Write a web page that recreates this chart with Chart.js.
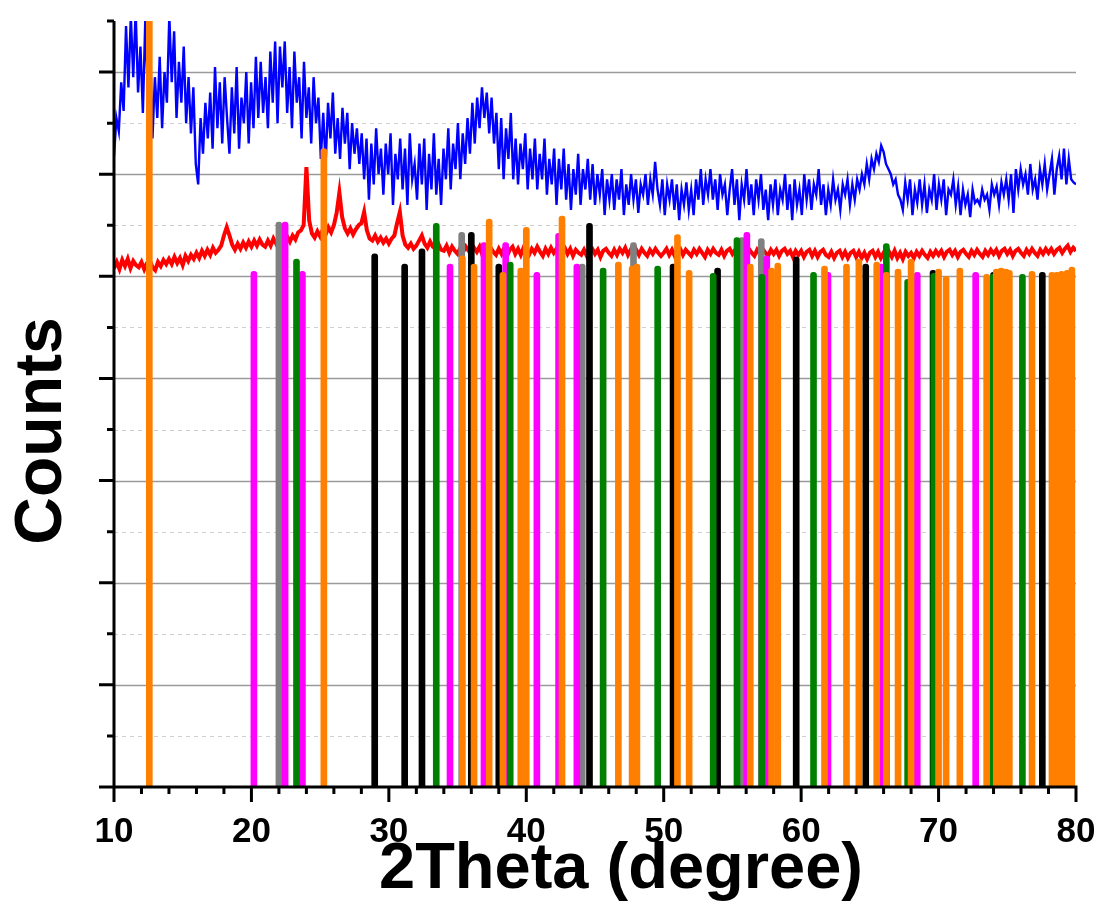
<!DOCTYPE html>
<html>
<head>
<meta charset="utf-8">
<title>XRD</title>
<script src="https://cdn.jsdelivr.net/npm/chart.js@4.4.1/dist/chart.umd.min.js"></script>
<style>
  html, body { margin: 0; padding: 0; background: #fff; }
  canvas { display: block; }
</style>
</head>
<body>
<canvas id="xrd" width="1098" height="923"></canvas>
<script>
// measured patterns: start angle, step, counts (arb. units)
const blueStart = 10, blueStep = 0.175;
const blueCounts = [
  6.18, 6.55, 6.42, 6.90, 6.62, 7.45, 6.85, 7.55,
  6.95, 7.60, 6.80, 7.25, 6.60, 7.50, 6.85, 7.30,
  6.35, 6.95, 6.55, 7.15, 6.45, 7.00, 6.70, 7.55,
  6.90, 7.40, 6.55, 7.10, 6.70, 7.25, 6.50, 6.95,
  6.40, 6.85, 6.10, 5.90, 6.55, 6.20, 6.70, 6.35,
  6.80, 6.25, 7.05, 6.45, 6.90, 6.30, 6.95, 6.55,
  6.20, 6.85, 6.40, 7.05, 6.25, 6.75, 6.50, 7.00,
  6.30, 6.90, 6.45, 7.15, 6.55, 7.10, 6.60, 6.95,
  6.45, 7.20, 6.70, 7.30, 6.50, 7.25, 6.85, 7.30,
  6.60, 7.05, 6.45, 7.20, 6.70, 6.95, 6.35, 7.10,
  6.55, 6.85, 6.30, 6.95, 6.50, 6.75, 6.15, 6.60,
  6.10, 6.70, 6.35, 6.80, 6.20, 6.55, 6.15, 6.65,
  6.30, 6.60, 6.05, 6.50, 6.20, 6.45, 6.10, 6.40,
  5.95, 6.35, 5.75, 6.30, 5.90, 6.45, 6.00, 6.25,
  5.80, 6.30, 6.00, 6.40, 5.70, 6.20, 5.95, 6.35,
  5.85, 6.25, 5.70, 6.40, 5.95, 6.10, 5.75, 6.30,
  5.90, 6.35, 5.65, 6.20, 5.85, 6.40, 5.80, 6.15,
  5.70, 6.25, 5.95, 6.45, 5.85, 6.30, 6.05, 6.50,
  5.95, 6.40, 6.10, 6.55, 6.20, 6.70, 6.30, 6.75,
  6.45, 6.85, 6.55, 6.80, 6.40, 6.75, 6.30, 6.60,
  6.05, 6.55, 5.95, 6.45, 6.15, 6.60, 5.95, 6.35,
  5.90, 6.30, 6.05, 6.40, 5.85, 6.25, 5.95, 6.35,
  5.85, 6.20, 5.95, 6.35, 5.80, 6.15, 5.90, 6.25,
  5.70, 6.15, 5.85, 6.25, 5.75, 6.10, 5.65, 6.05,
  5.80, 6.20, 5.70, 6.05, 5.85, 6.15, 5.75, 6.10,
  5.70, 6.00, 5.80, 6.05, 5.60, 5.95, 5.75, 6.00,
  5.65, 5.95, 5.75, 6.05, 5.60, 5.90, 5.70, 6.00,
  5.75, 5.95, 5.62, 5.90, 5.80, 6.00, 5.70, 5.95,
  5.80, 6.12, 5.85, 5.70, 5.95, 5.60, 5.90, 5.75,
  5.95, 5.65, 5.90, 5.55, 5.85, 5.70, 5.92, 5.65,
  5.85, 5.60, 5.95, 5.75, 6.05, 5.70, 5.95, 5.80,
  6.05, 5.75, 5.95, 5.65, 6.00, 5.80, 5.90, 5.60,
  5.85, 6.05, 5.70, 5.95, 5.55, 5.90, 5.75, 6.05,
  5.70, 5.90, 5.60, 5.95, 5.75, 6.00, 5.65, 5.85,
  5.55, 5.90, 5.70, 5.95, 5.60, 5.85, 5.75, 6.00,
  5.65, 5.90, 5.55, 5.95, 5.70, 5.85, 5.60, 6.00,
  5.75, 5.95, 5.65, 5.90, 5.80, 6.05, 5.70, 5.90,
  5.60, 5.85, 5.70, 5.95, 5.75, 5.85, 5.65, 5.90,
  5.80, 5.95, 5.70, 5.90, 5.75, 5.95, 5.85, 6.00,
  5.90, 6.10, 5.95, 6.15, 6.05, 6.20, 6.12, 6.28,
  6.22, 6.10, 6.05, 6.00, 5.90, 5.95, 5.80, 5.75,
  5.65, 5.92, 5.75, 5.95, 5.60, 5.85, 5.72, 5.95,
  5.70, 5.90, 5.62, 5.85, 5.75, 6.00, 5.65, 5.90,
  5.75, 5.95, 5.60, 5.85, 5.80, 5.95, 5.70, 5.88,
  5.60, 5.85, 5.70, 5.80, 5.58, 5.85, 5.72, 5.75,
  5.70, 5.85, 5.75, 5.80, 5.65, 5.90, 5.80, 5.88,
  5.70, 5.92, 5.80, 5.95, 5.75, 6.00, 5.62, 6.05,
  5.85, 6.05, 5.90, 6.00, 5.80, 6.10, 5.85, 5.95,
  5.75, 6.05, 5.90, 6.10, 5.85, 6.00, 6.15, 5.80,
  6.05, 6.18, 5.95, 6.25, 5.90, 6.15, 5.95, 5.92,
  5.90
];

const redStart = 10, redStep = 0.2;
const redCounts = [
  5.08, 5.14, 5.07, 5.16, 5.10, 5.17, 5.08, 5.15, 5.11, 5.09,
  5.14, 5.07, 5.13, 5.16, 5.09, 5.06, 5.14, 5.10, 5.16, 5.12,
  5.17, 5.12, 5.19, 5.13, 5.18, 5.11, 5.20, 5.15, 5.21, 5.17,
  5.23, 5.18, 5.25, 5.20, 5.26, 5.21, 5.28, 5.23, 5.26, 5.30,
  5.40, 5.48, 5.40, 5.31, 5.26, 5.32, 5.27, 5.33, 5.28, 5.34,
  5.29, 5.35, 5.30, 5.36, 5.31, 5.29, 5.35, 5.30, 5.37, 5.32,
  5.36, 5.31, 5.37, 5.39, 5.34, 5.40, 5.36, 5.43, 5.45, 5.50,
  6.07, 5.55, 5.42, 5.38, 5.44, 5.39, 5.46, 5.41, 5.48, 5.43,
  5.50, 5.62, 5.82, 5.58, 5.47, 5.42, 5.47, 5.41, 5.46, 5.50,
  5.52, 5.63, 5.45, 5.37, 5.35, 5.40, 5.34, 5.38, 5.33, 5.37,
  5.32, 5.37, 5.40, 5.52, 5.63, 5.40, 5.31, 5.28, 5.32, 5.27,
  5.30, 5.35, 5.40, 5.32, 5.28, 5.34, 5.29, 5.27, 5.32, 5.26,
  5.25, 5.30, 5.23, 5.29, 5.25, 5.22, 5.28, 5.24, 5.29, 5.25,
  5.22, 5.28, 5.24, 5.29, 5.21, 5.27, 5.23, 5.28, 5.24, 5.21,
  5.27, 5.22, 5.28, 5.20, 5.26, 5.29, 5.22, 5.27, 5.21, 5.28,
  5.24, 5.21, 5.27, 5.23, 5.29, 5.24, 5.20, 5.27, 5.22, 5.28,
  5.23, 5.27, 5.21, 5.26, 5.28, 5.22, 5.27, 5.20, 5.26, 5.23,
  5.21, 5.26, 5.20, 5.25, 5.27, 5.22, 5.26, 5.19, 5.25, 5.27,
  5.23, 5.20, 5.26, 5.21, 5.27, 5.23, 5.28, 5.21, 5.26, 5.20,
  5.26, 5.21, 5.27, 5.23, 5.20, 5.26, 5.22, 5.27, 5.23, 5.20,
  5.23, 5.27, 5.21, 5.26, 5.20, 5.25, 5.27, 5.21, 5.26, 5.23,
  5.20, 5.26, 5.22, 5.27, 5.23, 5.19, 5.26, 5.22, 5.27, 5.23,
  5.21, 5.26, 5.20, 5.25, 5.27, 5.22, 5.26, 5.20, 5.25, 5.26,
  5.22, 5.27, 5.23, 5.20, 5.26, 5.22, 5.27, 5.23, 5.20, 5.26,
  5.22, 5.26, 5.20, 5.25, 5.27, 5.22, 5.25, 5.19, 5.25, 5.21,
  5.25, 5.19, 5.24, 5.26, 5.20, 5.25, 5.19, 5.24, 5.26, 5.21,
  5.19, 5.24, 5.18, 5.23, 5.25, 5.19, 5.24, 5.18, 5.23, 5.25,
  5.19, 5.24, 5.18, 5.23, 5.17, 5.23, 5.25, 5.19, 5.24, 5.18,
  5.23, 5.17, 5.24, 5.19, 5.25, 5.18, 5.23, 5.17, 5.24, 5.20,
  5.23, 5.18, 5.24, 5.20, 5.25, 5.21, 5.18, 5.24, 5.20, 5.25,
  5.21, 5.25, 5.19, 5.24, 5.26, 5.21, 5.25, 5.19, 5.24, 5.26,
  5.22, 5.19, 5.25, 5.21, 5.26, 5.22, 5.19, 5.25, 5.21, 5.26,
  5.22, 5.26, 5.20, 5.25, 5.27, 5.22, 5.26, 5.20, 5.25, 5.27,
  5.23, 5.20, 5.26, 5.22, 5.27, 5.23, 5.20, 5.26, 5.22, 5.27,
  5.23, 5.27, 5.22, 5.26, 5.28, 5.23, 5.27, 5.30, 5.24, 5.28,
  5.25
];

// reference card lines: [2theta, relative height]
const orangeSticks = [
  [12.57, 7.6], [25.27, 6.25], [35.35, 5.2], [36.2, 5.12], [37.3, 5.56],
  [38.3, 5.04], [39.6, 5.08], [40.0, 5.48], [42.6, 5.59], [46.7, 5.14],
  [47.7, 5.1], [48.05, 5.12], [51.0, 5.41], [51.85, 5.06], [56.3, 5.12],
  [57.85, 5.08], [58.3, 5.13], [61.7, 5.1], [63.3, 5.12], [64.2, 5.17],
  [65.5, 5.14], [66.2, 5.04], [67.05, 5.07], [68.0, 5.17], [70.0, 5.07],
  [70.55, 5.0], [71.55, 5.08], [73.5, 5.02], [74.2, 5.07], [74.55, 5.08],
  [74.9, 5.07], [75.15, 5.06], [76.8, 5.05], [78.25, 5.04], [78.6, 5.04],
  [78.95, 5.05], [79.35, 5.06], [79.7, 5.09]
];
const magentaSticks = [
  [20.18, 5.05], [22.45, 5.53], [23.71, 5.05], [34.45, 5.12], [36.92, 5.33],
  [38.5, 5.33], [40.77, 5.04], [42.35, 5.42], [43.68, 5.12], [56.05, 5.43],
  [57.5, 5.2], [61.95, 5.04], [65.8, 5.12], [68.45, 5.04], [72.7, 5.04],
  [79.1, 5.04]
];
const blackSticks = [
  [28.97, 5.22], [31.15, 5.12], [32.41, 5.27], [36.0, 5.43], [38.0, 5.12],
  [44.6, 5.52], [50.68, 5.12], [53.92, 5.08], [59.64, 5.19], [64.7, 5.12],
  [69.6, 5.06], [74.0, 5.04], [77.55, 5.04]
];
const greenSticks = [
  [23.28, 5.17], [33.45, 5.52], [38.83, 5.14], [45.59, 5.08], [49.56, 5.1],
  [53.6, 5.03], [55.33, 5.38], [57.14, 5.02], [60.9, 5.04], [66.2, 5.32],
  [67.75, 4.97], [69.65, 5.03], [73.95, 5.02], [76.1, 5.02]
];
const graySticks = [
  [22.0, 5.53], [35.3, 5.43], [44.07, 5.12], [47.8, 5.33], [55.69, 5.38],
  [57.1, 5.37]
];

const xTicks = [10, 20, 30, 40, 50, 60, 70, 80];

function pattern(start, step, counts) {
  return counts.map((c, i) => ({ x: +(start + i * step).toFixed(3), y: c }));
}

function sticks(list, color, order) {
  return {
    type: 'bar',
    data: list.map(s => ({ x: s[0], y: s[1] })),
    backgroundColor: color,
    borderWidth: 0,
    borderRadius: { topLeft: 3, topRight: 3 },
    barThickness: 6,
    grouped: false,
    order: order
  };
}

const FONT = "'Liberation Sans', Arial, sans-serif";

// grid lines, axis lines with major/minor ticks, axis titles
const frame = {
  id: 'frame',
  beforeDatasetsDraw(chart) {
    const { ctx, chartArea: a, scales: { y } } = chart;
    ctx.save();
    for (let v = 0.5; v < 7.5; v += 0.5) {
      const major = v % 1 === 0;
      const py = Math.round(y.getPixelForValue(v)) + 0.5;
      ctx.beginPath();
      ctx.strokeStyle = major ? '#9a9a9a' : '#cfcfcf';
      ctx.lineWidth = major ? 1.5 : 1;
      ctx.setLineDash(major ? [] : [4, 4]);
      ctx.moveTo(a.left, py);
      ctx.lineTo(a.right, py);
      ctx.stroke();
    }
    ctx.restore();
  },
  afterDraw(chart) {
    const { ctx, chartArea: a, scales: { x, y } } = chart;
    ctx.save();
    ctx.strokeStyle = '#000';
    ctx.lineWidth = 3;
    ctx.lineCap = 'butt';
    ctx.beginPath();
    ctx.moveTo(a.left, a.top);
    ctx.lineTo(a.left, a.bottom + 1.5);
    ctx.moveTo(a.left - 1.5, a.bottom);
    ctx.lineTo(a.right + 1.5, a.bottom);
    for (let v = 10; v <= 80; v += 2) {
      const px = x.getPixelForValue(v);
      ctx.moveTo(px, a.bottom);
      ctx.lineTo(px, a.bottom + (v % 10 === 0 ? 15 : 7));
    }
    for (let v = 0; v <= 7.5; v += 0.5) {
      const py = y.getPixelForValue(v);
      ctx.moveTo(a.left, py);
      ctx.lineTo(a.left - (v % 1 === 0 ? 15 : 7), py);
    }
    ctx.stroke();

    ctx.fillStyle = '#000';
    ctx.textAlign = 'center';
    ctx.textBaseline = 'middle';
    ctx.font = 'bold 65px ' + FONT;
    ctx.fillText('2Theta (degree)', (a.left + a.right) / 2 + 26, 870);
    ctx.translate(43, (a.top + a.bottom) / 2 + 27);
    ctx.rotate(-Math.PI / 2);
    ctx.font = 'bold 66px ' + FONT;
    ctx.fillText('Counts', 0, 0);
    ctx.restore();
  }
};

new Chart(document.getElementById('xrd'), {
  type: 'bar',
  data: {
    datasets: [
      {
        type: 'line',
        data: pattern(blueStart, blueStep, blueCounts),
        borderColor: '#0000ff',
        borderWidth: 2.4,
        pointRadius: 0,
        tension: 0,
        order: 10
      },
      {
        type: 'line',
        data: pattern(redStart, redStep, redCounts),
        borderColor: '#ff0000',
        borderWidth: 4,
        pointRadius: 0,
        tension: 0,
        order: 9
      },
      sticks(graySticks, '#808080', 5),
      sticks(blackSticks, '#000000', 4),
      sticks(magentaSticks, '#ff00ff', 3),
      sticks(greenSticks, '#008000', 2),
      sticks(orangeSticks, '#ff8000', 1)
    ]
  },
  options: {
    responsive: false,
    animation: false,
    events: [],
    layout: { padding: { top: 21, right: 22, left: 0, bottom: 0 } },
    plugins: { legend: { display: false }, tooltip: { enabled: false } },
    scales: {
      x: {
        type: 'linear',
        min: 10,
        max: 80,
        offset: false,
        afterBuildTicks: s => { s.ticks = xTicks.map(v => ({ value: v })); },
        afterFit: s => { s.height = 136; s.paddingLeft = 0; s.paddingRight = 0; },
        grid: { display: false, drawTicks: false },
        border: { display: false },
        ticks: {
          color: '#000',
          padding: 24,
          maxRotation: 0,
          autoSkip: false,
          font: { family: FONT, weight: 'bold', size: 35 }
        }
      },
      y: {
        min: 0,
        max: 7.5,
        afterFit: s => { s.width = 114; },
        grid: { display: false, drawTicks: false },
        border: { display: false },
        ticks: { display: false }
      }
    }
  },
  plugins: [frame]
});
</script>
</body>
</html>
